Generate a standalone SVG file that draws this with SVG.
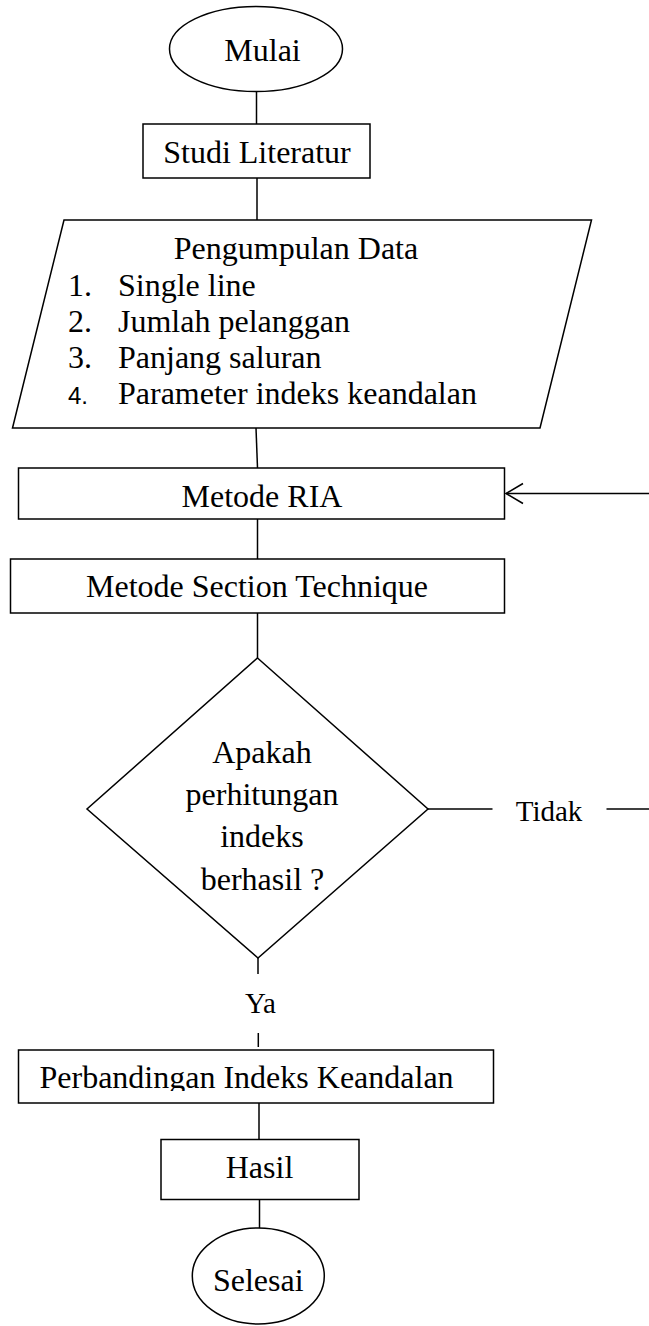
<svg xmlns="http://www.w3.org/2000/svg" width="649" height="1326" viewBox="0 0 649 1326">
  <style>
    .shape { fill: #ffffff; stroke: #000000; stroke-width: 1.5; }
    .line { fill: none; stroke: #000000; stroke-width: 1.5; }
    .t { font-family: "Liberation Serif", "Times New Roman", serif; font-size: 32px; fill: #000000; }
    .c { text-anchor: middle; }
    .lbl { font-family: "Liberation Serif", "Times New Roman", serif; font-size: 29px; fill: #000000; }
    .num { font-family: "Liberation Sans", Arial, sans-serif; font-size: 24px; fill: #000000; }
  </style>
  <defs>
    <marker id="openArrow" markerUnits="userSpaceOnUse" markerWidth="22" markerHeight="24" refX="19" refY="11" orient="auto" overflow="visible">
      <path d="M2,1 L19,11 L2,21" fill="none" stroke="#000000" stroke-width="1.5"/>
    </marker>
    <clipPath id="clipCompare">
      <rect x="18" y="1050" width="476" height="41"/>
    </clipPath>
  </defs>
  <rect width="649" height="1326" fill="#ffffff"/>

  <!-- connectors -->
  <g id="connectors">
    <line class="line" x1="256.5" y1="92" x2="256.5" y2="124"/>
    <line class="line" x1="257" y1="178" x2="257" y2="220"/>
    <line class="line" x1="256" y1="428" x2="257.5" y2="468"/>
    <line class="line" x1="257.5" y1="519" x2="257.5" y2="559"/>
    <line class="line" x1="257.5" y1="613" x2="257.5" y2="658"/>
    <!-- "Tidak" loop back to Metode RIA -->
    <line class="line" x1="428" y1="809" x2="492.5" y2="809"/>
    <line class="line" x1="606.5" y1="809" x2="649" y2="809"/>
    <line class="line" x1="649" y1="493.5" x2="506" y2="493.5" marker-end="url(#openArrow)"/>
    <!-- "Ya" branch -->
    <line class="line" x1="258" y1="958" x2="258" y2="974"/>
    <line class="line" x1="258.3" y1="1033" x2="258.3" y2="1047"/>
    <line class="line" x1="259" y1="1103" x2="259" y2="1139"/>
    <line class="line" x1="259.5" y1="1199" x2="259.5" y2="1228"/>
    <text class="lbl" x="549" y="821" text-anchor="middle">Tidak</text>
    <text class="lbl" x="260.5" y="1013" text-anchor="middle">Ya</text>
  </g>

  <g id="mulai">
    <ellipse class="shape" cx="256" cy="49" rx="86.5" ry="42.5"/>
    <text class="t c" x="262.5" y="61">Mulai</text>
  </g>

  <g id="studi-literatur">
    <rect class="shape" x="143" y="124" width="227" height="54"/>
    <text class="t c" x="257" y="163">Studi Literatur</text>
  </g>

  <g id="pengumpulan-data">
    <polygon class="shape" points="64,220 591.5,220 540,428 12.5,428"/>
    <text class="t c" x="296" y="259">Pengumpulan Data</text>
    <text class="t" x="68" y="296">1.</text>
    <text class="t" x="118" y="296">Single line</text>
    <text class="t" x="68" y="332">2.</text>
    <text class="t" x="118" y="332">Jumlah pelanggan</text>
    <text class="t" x="68" y="368">3.</text>
    <text class="t" x="118" y="368">Panjang saluran</text>
    <text class="num" x="68" y="404">4.</text>
    <text class="t" x="118" y="404">Parameter indeks keandalan</text>
  </g>

  <g id="metode-ria">
    <rect class="shape" x="18.5" y="468" width="486" height="51"/>
    <text class="t c" x="262" y="507">Metode RIA</text>
  </g>

  <g id="metode-section">
    <rect class="shape" x="10.5" y="559" width="494" height="54"/>
    <text class="t c" x="257" y="597">Metode Section Technique</text>
  </g>

  <g id="keputusan">
    <polygon class="shape" points="257.5,658 428,809 258,958 87,809"/>
    <text class="t c" x="262" y="763">Apakah</text>
    <text class="t c" x="262" y="805">perhitungan</text>
    <text class="t c" x="262" y="847">indeks</text>
    <text class="t c" x="262.5" y="890">berhasil ?</text>
  </g>

  <g id="perbandingan">
    <rect class="shape" x="18.5" y="1050" width="475" height="53"/>
    <text class="t" x="39.5" y="1088" clip-path="url(#clipCompare)">Perbandingan Indeks Keandalan</text>
  </g>

  <g id="hasil">
    <rect class="shape" x="161" y="1139.5" width="198" height="60"/>
    <text class="t c" x="259.5" y="1178">Hasil</text>
  </g>

  <g id="selesai">
    <ellipse class="shape" cx="258.3" cy="1276" rx="66" ry="48"/>
    <text class="t c" x="258.3" y="1291">Selesai</text>
  </g>
</svg>
